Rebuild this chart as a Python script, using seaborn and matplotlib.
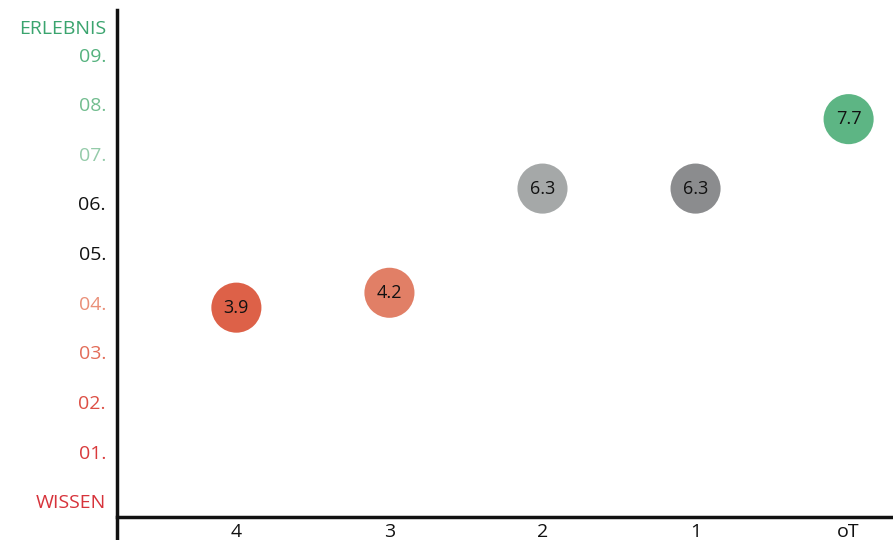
import matplotlib
matplotlib.use("Agg")
import matplotlib.pyplot as plt
import seaborn as sns
import pandas as pd

# Categories along the x axis and their scores
categories = ["4", "3", "2", "1", "oT"]
scores = [3.9, 4.2, 6.3, 6.3, 7.7]
point_colors = ["#dd6148", "#e17f66", "#a5a8a8", "#8b8c8e", "#5db584"]

# Scale from WISSEN (0) to ERLEBNIS (top)
tick_values = [0, 1, 2, 3, 4, 5, 6, 7, 8, 9, 9.55]
tick_labels = ["WISSEN", "01.", "02.", "03.", "04.", "05.", "06.", "07.", "08.", "09.", "ERLEBNIS"]
tick_colors = ["#d7333b", "#d93a3c", "#dd4f45", "#e36c58", "#ea8f78",
               "#111111", "#111111", "#94cba9", "#72bd8f", "#55b27e", "#3aa46e"]

sns.set_theme(style="white")
plt.rcParams["font.family"] = ["Open Sans", "DejaVu Sans"]

df = pd.DataFrame({"category": categories, "score": scores})

fig = plt.figure(figsize=(8.93, 5.4), dpi=100)
ax = fig.add_axes([117 / 893, 23 / 540, 1 - 117 / 893, (517 - 10) / 540])

sns.scatterplot(data=df, x="category", y="score", hue="category",
                palette=dict(zip(categories, point_colors)), s=1300,
                linewidth=0, legend=False, ax=ax, zorder=3)

for i, v in enumerate(scores):
    ax.text(i, v, f"{v:.1f}", ha="center", va="center", fontsize=13,
            color="#111111", zorder=4)

ax.set_xlim(-0.78, 4.29)
ax.set_ylim(-0.32, 9.9)
ax.set_yticks(tick_values)
ax.set_yticklabels(tick_labels)
for lbl, c in zip(ax.get_yticklabels(), tick_colors):
    lbl.set_color(c)
ax.tick_params(axis="y", length=0, pad=8, labelsize=14)
ax.tick_params(axis="x", length=0, pad=4, labelsize=14, labelcolor="#111111")
ax.set_xlabel("")
ax.set_ylabel("")

for side in ["top", "right"]:
    ax.spines[side].set_visible(False)
for side in ["left", "bottom"]:
    ax.spines[side].set_color("#111111")
    ax.spines[side].set_linewidth(2.5)
ax.spines["left"].set_bounds(-0.32 - 0.5, 9.9)
ax.spines["left"].set_clip_on(False)

fig.savefig("out.png", dpi=100)
